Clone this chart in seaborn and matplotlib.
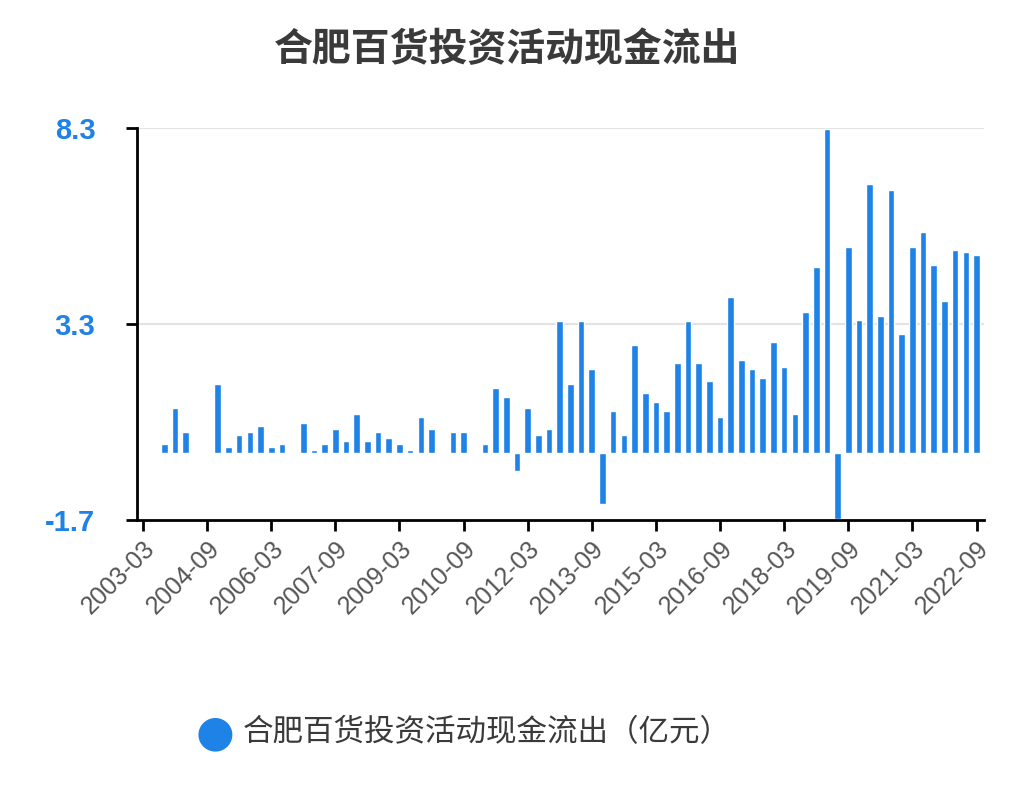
import matplotlib
matplotlib.use("Agg")
import matplotlib.pyplot as plt
import seaborn as sns
import pandas as pd
import numpy as np

sns.set_theme(style="white")
plt.rcParams['font.family'] = ['Noto Sans CJK SC', 'DejaVu Sans']
plt.rcParams['axes.unicode_minus'] = False

# quarterly periods 2003-03 .. 2022-09
periods = [f"{2003 + i // 4}-{['03','06','09','12'][i % 4]}" for i in range(79)]
known = {2:0.23, 3:1.15, 4:0.54, 7:1.76, 8:0.15, 9:0.46, 10:0.54, 11:0.69, 12:0.15, 13:0.23,
         15:0.77, 16:0.08, 17:0.23, 18:0.61, 19:0.31, 20:1.0, 21:0.31, 22:0.54, 23:0.38, 24:0.23,
         25:0.08, 26:0.92, 27:0.61, 29:0.54, 30:0.54, 32:0.23, 33:1.68, 34:1.45, 35:-0.45, 36:1.15,
         37:0.46, 38:0.61, 39:3.37, 40:1.76, 41:3.37, 42:2.14, 43:-1.29, 44:1.07, 45:0.46, 46:2.76,
         47:1.53, 48:1.3, 49:1.07, 50:2.3, 51:3.37, 52:2.3, 53:1.84, 54:0.92, 55:3.98, 56:2.38,
         57:2.15, 58:1.91, 59:2.83, 60:2.21, 61:1.0, 62:3.6, 63:4.75, 64:8.27, 65:-1.67, 66:5.27,
         67:3.39, 68:6.87, 69:3.5, 70:6.72, 71:3.04, 72:5.27, 73:5.65, 74:4.8, 75:3.89, 76:5.2,
         77:5.13, 78:5.05}
values = [known.get(i, np.nan) for i in range(79)]
tick_labels = periods[::6]
yticks = [-1.7, 3.3, 8.3]
label = "合肥百货投资活动现金流出（亿元）"

df = pd.DataFrame({"period": periods, "value": values})

fig = plt.figure(figsize=(10.14, 8.10), dpi=100)
ax = fig.add_axes([137/1014, 1-520/810, (984-137)/1014, (520-128)/810])
sns.barplot(data=df, x="period", y="value", order=periods, color="#1f82e6",
            saturation=1, width=0.62, ax=ax)
ax.set_xlim(-0.56, 78.7)
ax.set_ylim(-1.7, 8.3)
ax.set_yticks(yticks)
ax.set_yticklabels([f"{v}" for v in yticks], color="#1f82e6", fontsize=21, fontweight="bold",
                   family=['Liberation Sans'])
ax.set_xticks(range(0, 79, 6))
ax.set_xticklabels(tick_labels, rotation=45, ha="right", rotation_mode="anchor",
                   color="#555555", fontsize=18, family=['Liberation Sans'])
for y in [3.3, 8.3]:
    ax.axhline(y, color="#e3e3e3", lw=1.5, zorder=0)
ax.tick_params(axis="both", length=8, width=2, color="black", bottom=True, left=True)
ax.tick_params(axis="y", pad=22)
ax.tick_params(axis="x", pad=4)
for s in ["top", "right"]:
    ax.spines[s].set_visible(False)
for s in ["left", "bottom"]:
    ax.spines[s].set_color("black")
    ax.spines[s].set_linewidth(2)
ax.set_xlabel("")
ax.set_ylabel("")
fig.text(0.5, 1-50/810, "合肥百货投资活动现金流出", ha="center", va="center",
         fontsize=28, fontweight="bold", color="#3a3a3a")
fig.text(215/1014, 1-733/810, "●", ha="center", va="center", fontsize=32, color="#1f82e6",
         family=['DejaVu Sans'])
fig.text(243/1014, 1-733/810, label, ha="left", va="center", fontsize=22, color="#3a3a3a")
fig.savefig("out.png", dpi=100)
